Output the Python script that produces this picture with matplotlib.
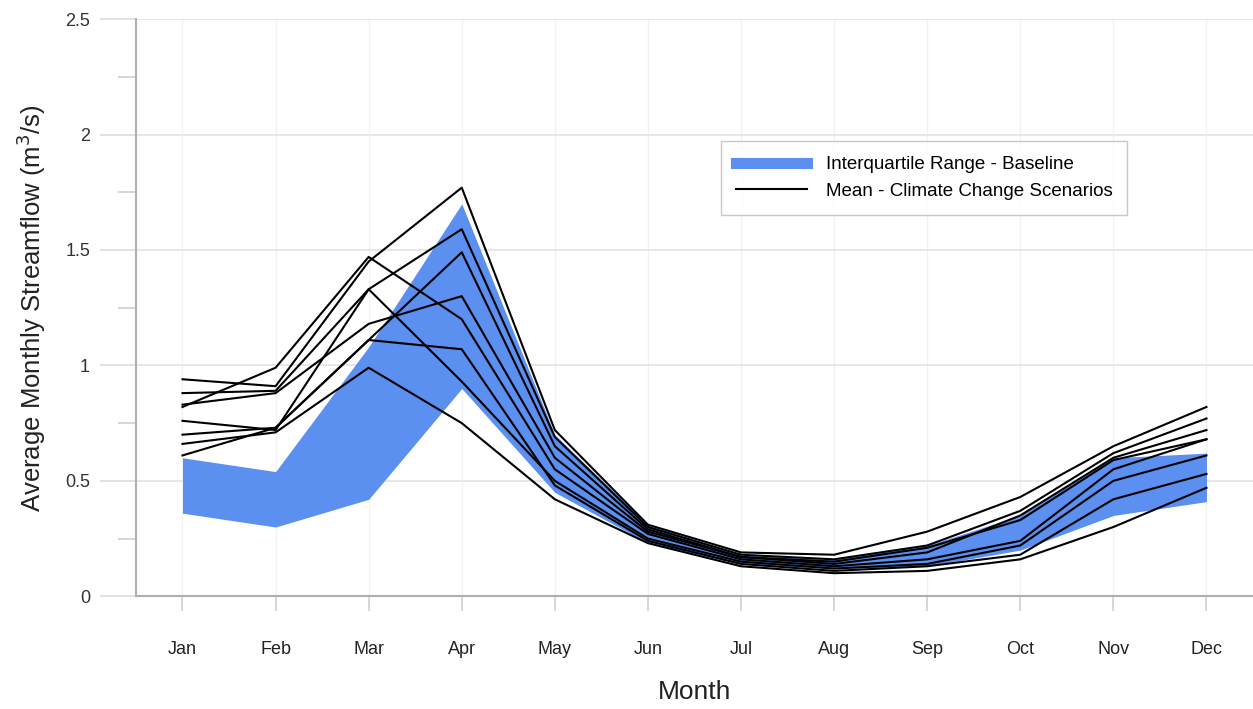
import numpy as np
import matplotlib
matplotlib.use("Agg")
import matplotlib.pyplot as plt
from matplotlib.lines import Line2D

plt.rcParams['font.family'] = ['Liberation Sans', 'DejaVu Sans']

months = ['Jan', 'Feb', 'Mar', 'Apr', 'May', 'Jun', 'Jul', 'Aug', 'Sep', 'Oct', 'Nov', 'Dec']

# interquartile range of the baseline
iqr_low = [0.36, 0.30, 0.42, 0.90, 0.45, 0.23, 0.14, 0.12, 0.13, 0.20, 0.35, 0.41]
iqr_high = [0.60, 0.54, 1.08, 1.70, 0.70, 0.31, 0.18, 0.16, 0.22, 0.35, 0.60, 0.62]

# mean of each climate change scenario
scen_1 = [0.82, 0.99, 1.47, 1.20, 0.55, 0.27, 0.16, 0.13, 0.16, 0.24, 0.55, 0.68]
scen_2 = [0.94, 0.91, 1.45, 1.77, 0.72, 0.31, 0.19, 0.18, 0.28, 0.43, 0.65, 0.82]
scen_3 = [0.88, 0.89, 1.33, 0.93, 0.50, 0.25, 0.15, 0.12, 0.14, 0.22, 0.50, 0.61]
scen_4 = [0.83, 0.88, 1.18, 1.30, 0.60, 0.28, 0.17, 0.14, 0.19, 0.35, 0.60, 0.72]
scen_5 = [0.76, 0.72, 1.33, 1.59, 0.69, 0.30, 0.18, 0.16, 0.22, 0.37, 0.62, 0.77]
scen_6 = [0.70, 0.73, 1.11, 1.49, 0.65, 0.29, 0.17, 0.15, 0.21, 0.33, 0.59, 0.68]
scen_7 = [0.66, 0.71, 0.99, 0.75, 0.42, 0.23, 0.13, 0.10, 0.11, 0.16, 0.30, 0.47]
scen_8 = [0.61, 0.73, 1.11, 1.07, 0.48, 0.24, 0.14, 0.11, 0.13, 0.18, 0.42, 0.53]
scenarios = [scen_1, scen_2, scen_3, scen_4, scen_5, scen_6, scen_7, scen_8]

x = np.arange(1, 13)
blue = '#5b8ff0'
grey = '#b0b0b0'

fig = plt.figure(figsize=(12.53, 7.09), dpi=100)
ax = fig.add_axes([0.1085, 0.159, 0.8915, 0.814])

ax.fill_between(x, iqr_low, iqr_high, color=blue, lw=0, zorder=2)
for s in scenarios:
    ax.plot(x, s, color='black', lw=1.5, zorder=3)

ax.set_xlim(0.5, 12.5)
ax.set_ylim(0, 2.5)
ax.set_xticks(x)
ax.set_xticklabels(months)
ax.set_yticks([0, 0.5, 1, 1.5, 2, 2.5])
ax.set_yticklabels(['0', '0.5', '1', '1.5', '2', '2.5'])
ax.set_yticks(np.arange(0.25, 2.5, 0.5), minor=True)

ax.grid(axis='y', color='#e3e3e3', lw=1.2, zorder=0)
ax.grid(axis='x', color='#f2f2f2', lw=1.0, zorder=0)
for side in ['top', 'right']:
    ax.spines[side].set_visible(False)
for side in ['left', 'bottom']:
    ax.spines[side].set_color(grey)
    ax.spines[side].set_linewidth(1.5)

ax.tick_params(axis='y', which='major', length=26, width=1.2, color='#dddddd',
               labelsize=13, labelcolor='#333333', pad=7)
ax.tick_params(axis='y', which='minor', length=13, width=1.2, color='#cfcfcf')
ax.tick_params(axis='x', length=11, width=1.2, color='#cfcfcf',
               labelsize=13, labelcolor='#222222', pad=21)

ax.set_xlabel('Month', fontsize=19, color='#222222', labelpad=16)
ax.set_ylabel('Average Monthly Streamflow (m$^3$/s)', fontsize=18.5, color='#222222', labelpad=12)

handles = [Line2D([], [], color=blue, lw=8),
           Line2D([], [], color='black', lw=1.5)]
leg = ax.legend(handles, ['Interquartile Range - Baseline', 'Mean - Climate Change Scenarios'],
                loc='upper left', bbox_to_anchor=(0.515, 0.805), fontsize=13.5,
                frameon=True, fancybox=False, edgecolor='#bbbbbb', handlelength=3.8,
                borderpad=0.8, labelspacing=0.5, handletextpad=1.0)
leg.get_frame().set_linewidth(1.0)

fig.savefig('out.png', dpi=100)
